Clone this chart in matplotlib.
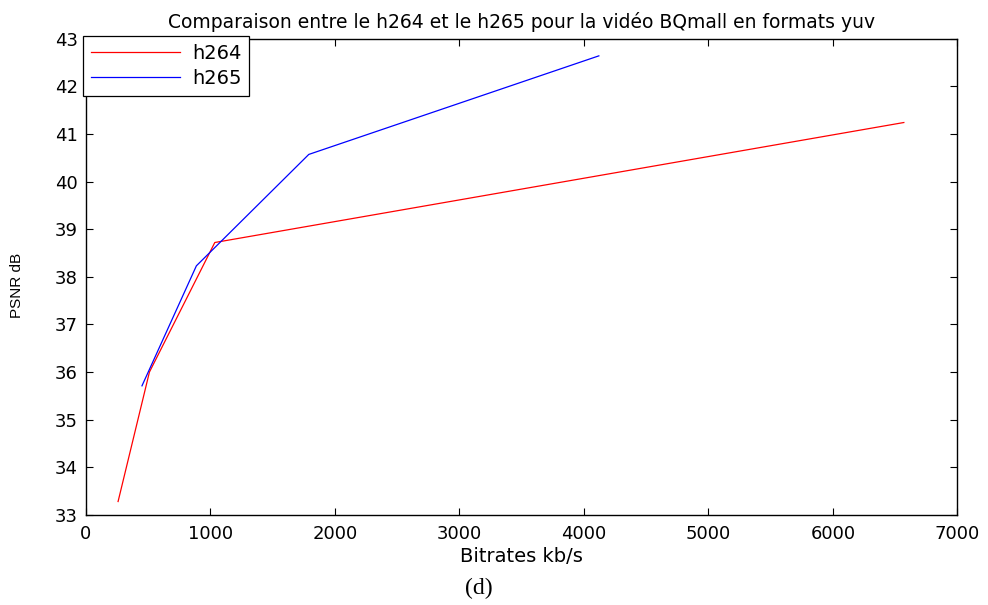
import matplotlib.pyplot as plt

# h264 and h265 rate/PSNR points
debit_h264 = [258, 510, 1035, 6570]
psnr_h264 = [33.28, 36.0, 38.72, 41.24]
debit_h265 = [450, 887, 1790, 4120]
psnr_h265 = [35.71, 38.23, 40.57, 42.64]

plt.rcParams['font.family'] = ['DejaVu Sans']

fig = plt.figure(figsize=(9.88, 6.05), dpi=100)
ax = fig.add_axes([0.087, 0.149, 0.882, 0.787])

ax.plot(debit_h264, psnr_h264, color='red', linewidth=0.9, label='h264')
ax.plot(debit_h265, psnr_h265, color='blue', linewidth=0.9, label='h265')

ax.set_xlim(0, 7000)
ax.set_ylim(33, 43)
ax.set_xticks(range(0, 7001, 1000))
ax.set_yticks(range(33, 44))
ax.tick_params(direction='in', top=True, right=True, length=5, labelsize=13)
ax.tick_params(axis='x', pad=7)
ax.tick_params(axis='y', pad=6)
for s in ax.spines.values():
    s.set_linewidth(1.0)

ax.set_title('Comparaison entre le h264 et le h265 pour la vidéo BQmall en formats yuv',
             fontsize=13.5, pad=8)
ax.set_xlabel('Bitrates kb/s', fontsize=14, labelpad=3)
ax.set_ylabel('PSNR dB', fontsize=11, family=['Liberation Sans', 'DejaVu Sans'])
ax.yaxis.set_label_coords(-0.071, 0.481)

leg = ax.legend(loc='upper left', bbox_to_anchor=(-0.0035, 1.005), borderaxespad=0,
                fontsize=14, fancybox=False, framealpha=1, edgecolor='black',
                handlelength=4.6, handletextpad=0.6, borderpad=0.4, labelspacing=0.3)
leg.get_frame().set_linewidth(0.9)

fig.text(0.485, 0.028, '(d)', fontsize=17, ha='center', va='center',
         family=['Liberation Serif', 'DejaVu Serif'])

plt.savefig('out.png', dpi=100)
